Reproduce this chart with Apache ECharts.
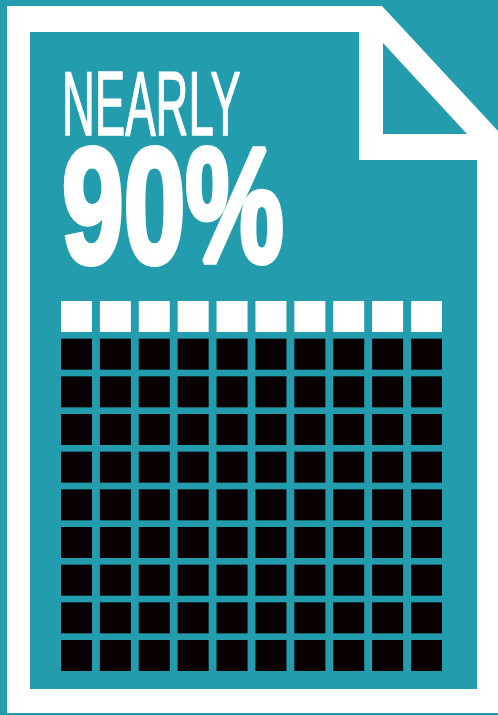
<!DOCTYPE html>
<html>
<head>
<meta charset="utf-8">
<style>
  html, body { margin: 0; padding: 0; background: #239dad; }
  #chart { width: 498px; height: 715px; }
</style>
<script src="https://cdn.jsdelivr.net/npm/echarts@6/dist/echarts.min.js"></script>
</head>
<body>
<div id="chart"></div>
<script>
// Waffle figure: 100 cells, of which `share` are highlighted.
const headline = 'NEARLY';
const shareLabel = '90%';
const total = 100;
const share = 90;
const columns = 10;

const TEAL = '#239dad';
const INK = '#080002';
const PAPER = '#ffffff';

// Cells are laid out row by row from the top; the last `share` cells are filled.
const filledCells = [];
const emptyCells = [];
for (let i = 0; i < total; i++) {
  const cell = [i % columns, Math.floor(i / columns)];
  if (i >= total - share) filledCells.push(cell); else emptyCells.push(cell);
}
const rows = Math.ceil(total / columns);

const chart = echarts.init(document.getElementById('chart'), null, { renderer: 'canvas' });

chart.setOption({
  backgroundColor: TEAL,
  animation: false,
  graphic: [
    // sheet of paper with a folded corner
    {
      type: 'polygon', z: 0,
      shape: { points: [[7, 6], [382, 6], [498, 131], [498, 713], [7, 713]] },
      style: { fill: PAPER }
    },
    {
      type: 'polygon', z: 1,
      shape: { points: [[30, 32], [359, 32], [359, 160], [477, 160], [477, 689], [30, 689]] },
      style: { fill: TEAL }
    },
    {
      type: 'polygon', z: 1,
      shape: { points: [[383, 43], [383, 134], [467, 134]] },
      style: { fill: TEAL }
    },
    {
      type: 'text', z: 2,
      x: 62, y: 110, scaleX: 0.5, scaleY: 1,
      style: {
        text: headline, x: 0, y: 0,
        font: '400 91px "Liberation Sans", Arial, sans-serif',
        fill: PAPER, stroke: PAPER, lineWidth: 1.5,
        align: 'left', verticalAlign: 'middle'
      }
    },
    {
      type: 'text', z: 2,
      x: 62, y: 217, scaleX: 0.68, scaleY: 1,
      style: {
        text: shareLabel, x: 0, y: 0,
        font: '700 163px "Liberation Sans", Arial, sans-serif',
        fill: PAPER, stroke: PAPER, lineWidth: 6,
        align: 'left', verticalAlign: 'middle'
      }
    }
  ],
  grid: { left: 76.5, right: 71.5, top: 316.5, bottom: 59.5 },
  xAxis: {
    type: 'value', min: 0, max: columns - 1,
    show: false, splitLine: { show: false }
  },
  yAxis: {
    type: 'value', min: 0, max: rows - 1, inverse: true,
    show: false, splitLine: { show: false }
  },
  series: [
    {
      name: 'rest', type: 'scatter', symbol: 'rect', symbolSize: [31, 31],
      data: emptyCells, itemStyle: { color: PAPER, opacity: 1 }, silent: true
    },
    {
      name: 'share', type: 'scatter', symbol: 'rect', symbolSize: [31, 31],
      data: filledCells, itemStyle: { color: INK, opacity: 1 }, silent: true
    }
  ]
});
</script>
</body>
</html>
